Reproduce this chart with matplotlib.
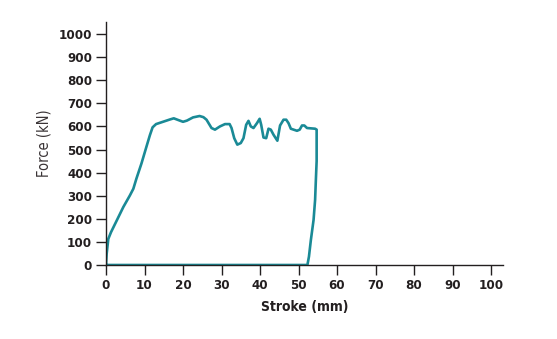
import matplotlib.pyplot as plt

# force-stroke loop: loading path then unloading back along the axis
stroke = [0, 0.17, 0.6, 1.3, 2.8, 4.5, 6.2, 7.1, 7.9, 9.2, 10.5, 11.4, 12.1, 13.0,
          14.8, 16.6, 17.6, 18.7, 20.0, 21.0, 22.6, 24.3, 25.3, 26.1, 27.4, 28.3, 29.6,
          30.9, 32.1, 32.6, 33.3, 34.1, 35.0, 35.7, 36.4, 37.0, 37.6, 38.3, 39.2,
          39.9, 40.3, 40.9, 41.6, 42.2, 42.8, 43.5, 44.5, 45.2, 46.1, 46.8, 47.4,
          48.0, 49.6, 50.3, 50.9, 51.5, 52.2, 54.3, 54.7,
          54.7, 54.5, 54.3, 53.9, 53.2, 52.7, 52.3, 0]
force = [0, 48, 113, 142, 193, 251, 301, 330, 374, 439, 512, 562, 596, 610,
         620, 630, 635, 628, 620, 625, 639, 645, 640, 629, 593, 586, 600,
         610, 610, 593, 549, 521, 528, 549, 607, 624, 600, 593, 614,
         633, 607, 552, 549, 590, 586, 564, 538, 604, 629, 629, 614,
         590, 581, 586, 604, 604, 593, 590, 586,
         450, 369, 282, 195, 108, 36, 0, 0]

xticks = list(range(0, 101, 10))
yticks = list(range(0, 1001, 100))

ink = '#231f20'

fig = plt.figure(figsize=(5.57, 3.39), dpi=100)
ax = fig.add_axes([0.1903, 0.2183, 0.7128, 0.7168])

ax.plot(stroke, force, color='#1a8a96', lw=1.9, solid_joinstyle='round')

ax.set_xlim(0, 103.1)
ax.set_ylim(0, 1052)
ax.set_xticks(xticks)
ax.set_yticks(yticks)
ax.tick_params(length=7, width=1, colors=ink, pad=3)
for lab in ax.get_xticklabels() + ax.get_yticklabels():
    lab.set_fontweight('bold')
    lab.set_fontstretch('condensed')
    lab.set_fontsize(9.5)

for s in ['top', 'right']:
    ax.spines[s].set_visible(False)
for s in ['left', 'bottom']:
    ax.spines[s].set_linewidth(1)
    ax.spines[s].set_color(ink)

ax.set_xlabel('Stroke (mm)', fontsize=10, color=ink, labelpad=6,
              fontweight='semibold', fontstretch='condensed')
ax.set_ylabel('Force (kN)', fontsize=10.5, color='#3a3436', labelpad=5,
              fontstretch='condensed')

plt.savefig('out.png', dpi=100)
